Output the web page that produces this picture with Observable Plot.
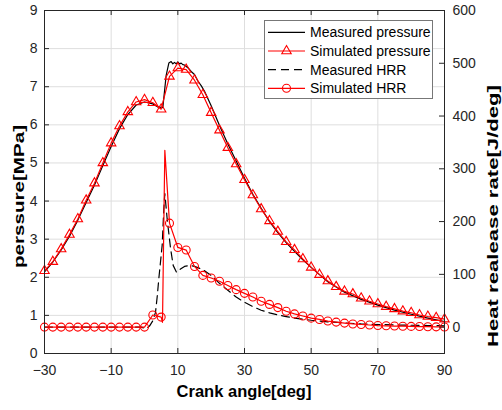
<!DOCTYPE html>
<html><head><meta charset="utf-8">
<script src="https://cdn.jsdelivr.net/npm/d3@7"></script>
<script src="https://cdn.jsdelivr.net/npm/@observablehq/plot@0.6"></script>
<style>body{margin:0;background:#fff;}#chart svg{display:block;}</style>
</head><body><div id="chart"></div>
<script>
// ---- data ----
const xTicks = [-30, -10, 10, 30, 50, 70, 90];
const pTicks = [0, 1, 2, 3, 4, 5, 6, 7, 8, 9];
const hrrTicks = [0, 100, 200, 300, 400, 500, 600];

const simPAngle = [-30,-27.5,-25,-22.5,-20,-17.5,-15,-12.5,-10,-7.5,-5,-2.5,0,2.5,5,7.5,10,12.5,15,17.5,20,22.5,25,27.5,30,32.5,35,37.5,40,42.5,45,47.5,50,52.5,55,57.5,60,62.5,65,67.5,70,72.5,75,77.5,80,82.5,85,87.5,90];
const simP = [2.17,2.41,2.74,3.12,3.53,4.02,4.47,5.0,5.52,5.97,6.34,6.60,6.66,6.58,6.41,7.27,7.49,7.45,7.17,6.79,6.32,5.86,5.40,4.97,4.56,4.16,3.79,3.48,3.20,2.93,2.72,2.48,2.26,2.07,1.90,1.75,1.63,1.56,1.45,1.37,1.30,1.23,1.17,1.11,1.07,1.01,0.97,0.94,0.90];

const measPAngle = [-30,-27.5,-25,-22.5,-20,-17.5,-15,-12.5,-10,-7.5,-5,-2.5,0,2.5,4,5.5,6.5,7.3,8,8.5,9,9.5,10,10.5,11,11.5,12,13,14,15,16,17,18,20,22.5,25,27.5,30,32.5,35,37.5,40,42.5,45,47.5,50,55,60,65,70,75,80,85,90];
const measP = [2.14,2.40,2.72,3.08,3.50,3.96,4.42,4.93,5.43,5.90,6.27,6.52,6.60,6.55,6.47,6.45,7.30,7.62,7.66,7.60,7.64,7.60,7.65,7.60,7.62,7.58,7.57,7.50,7.40,7.32,7.15,7.03,6.88,6.50,5.98,5.50,5.05,4.60,4.18,3.81,3.46,3.17,2.91,2.68,2.46,2.26,1.88,1.61,1.42,1.27,1.14,1.03,0.93,0.84];

const measHAngle = [-30,-1,0.5,1.5,2.5,3.3,3.8,4.3,5.3,5.8,6.1,6.8,7.8,8.6,9.6,10.8,12,13.5,15,17.5,20,22.5,25,27.5,30,32.5,35,37.5,40,42.5,45,47.5,50,55,60,65,70,75,80,85,90];
const measH = [0,0,-3,2,12,28,57,92,155,225,253,205,150,117,104,110,115,117,115,109,98,83,70,57,47,39,32,27,23,20,17,15,13,10,8,6,5,4,3.5,3,2.5];

const simHAngle = [-30,-27.5,-25,-22.5,-20,-17.5,-15,-12.5,-10,-7.5,-5,-2.5,0,2.5,5,5.4,6.1,7.5,10,12.5,15,17.5,20,22.5,25,27.5,30,32.5,35,37.5,40,42.5,45,47.5,50,52.5,55,57.5,60,62.5,65,67.5,70,72.5,75,77.5,80,82.5,85,87.5,90];
const simH = [0,0,0,0,0,0,0,0,0,0,0,0,0,23,19,9,335,197,151,146,115,98,93,87,79,71,64,57,49,43,37,30,25,21,17,14.5,11.5,9.5,7.6,6,5,4,3,2.5,2,1.7,1.4,1.1,0.8,0.5,0.3];

const legendLabels = ["Measured pressure", "Simulated pressure", "Measured HRR", "Simulated HRR"];

// ---- layout ----
const W = 502, H = 410, mL = 44, mR = 58, mT = 10, mB = 57;
const innerW = W - mL - mR, innerH = H - mT - mB;
const pDomain = [0, 9], hrrDomain = [-50, 600];
const toP = h => pDomain[0] + (h - hrrDomain[0]) * (pDomain[1] - pDomain[0]) / (hrrDomain[1] - hrrDomain[0]);
const fromP = p => hrrDomain[0] + (p - pDomain[0]) * (hrrDomain[1] - hrrDomain[0]) / (pDomain[1] - pDomain[0]);

const zip = (a, b) => a.map((x, i) => ({x, v: b[i]}));
const simPData = zip(simPAngle, simP);
const measPData = zip(measPAngle, measP);
const measHData = zip(measHAngle, measH);
const simHData = zip(simHAngle, simH);
const simHMarkers = simHData.filter(d => Math.abs(d.x / 2.5 - Math.round(d.x / 2.5)) < 1e-9);

const RED = "#ff0000", AX = "#262626", GRID = "#dedede";
const FONT = "'Liberation Sans', Arial, Helvetica, sans-serif";
const triR = 3.5, circR = 4;
const DASH = "8,5";

const chart = Plot.plot({
  width: W, height: H,
  marginLeft: mL, marginRight: mR, marginTop: mT, marginBottom: mB,
  style: {fontFamily: FONT, fontSize: "14px", color: AX, background: "#fff"},
  x: {domain: [-30, 90]},
  y: {domain: pDomain},
  marks: [
    Plot.gridX(xTicks, {stroke: GRID, strokeOpacity: 1}),
    Plot.gridY(pTicks, {stroke: GRID, strokeOpacity: 1}),
    // pressure
    Plot.line(measPData, {x: "x", y: "v", stroke: "#000", strokeWidth: 1.2}),
    Plot.line(simPData, {x: "x", y: "v", stroke: RED, strokeWidth: 1.2}),
    Plot.dot(simPData, {x: "x", y: "v", symbol: "triangle", r: triR, stroke: RED, fill: "none", strokeWidth: 1.1}),
    // HRR (right axis)
    Plot.line(measHData, {x: "x", y: d => toP(d.v), stroke: "#000", strokeWidth: 1.2, strokeDasharray: DASH}),
    Plot.line(simHData, {x: "x", y: d => toP(d.v), stroke: RED, strokeWidth: 1.2}),
    Plot.dot(simHMarkers, {x: "x", y: d => toP(d.v), r: circR, stroke: RED, fill: "none", strokeWidth: 1.1}),
    // box and inward ticks
    Plot.frame({stroke: AX, strokeWidth: 1}),
    Plot.tickX(xTicks, {x: d => d, insetTop: innerH - 5, stroke: AX}),
    Plot.tickX(xTicks, {x: d => d, insetBottom: innerH - 5, stroke: AX}),
    Plot.tickY(pTicks, {y: d => d, insetRight: innerW - 5, stroke: AX}),
    Plot.tickY(hrrTicks, {y: d => toP(d), insetLeft: innerW - 5, stroke: AX}),
    // tick labels
    Plot.axisX(xTicks, {tickSize: 0, tickPadding: 12, label: null, fill: AX}),
    Plot.axisY(pTicks, {tickSize: 0, tickPadding: 7, label: null, fill: AX}),
    Plot.axisY(hrrTicks.map(toP), {anchor: "right", tickSize: 0, tickPadding: 8, label: null, fill: AX,
      tickFormat: p => String(Math.round(fromP(p)))})
  ]
});
document.getElementById("chart").appendChild(chart);

// ---- axis titles and legend ----
const svg = d3.select(chart);
const titles = svg.append("g").attr("font-family", FONT).attr("font-weight", "bold").attr("fill", "#000");
titles.append("text").attr("x", mL + innerW / 2).attr("y", 397).attr("text-anchor", "middle")
  .attr("font-size", 16.5).text("Crank angle[deg]");
titles.append("text").attr("transform", "translate(19,196.5) rotate(-90)").attr("text-anchor", "middle")
  .attr("dy", "0.35em").attr("font-size", 15.5).attr("textLength", 143).attr("lengthAdjust", "spacingAndGlyphs")
  .text("perssure[MPa]");
titles.append("text").attr("transform", "translate(493,216) rotate(-90)").attr("text-anchor", "middle")
  .attr("dy", "0.35em").attr("font-size", 15.5).attr("textLength", 262).attr("lengthAdjust", "spacingAndGlyphs")
  .text("Heat realease rate[J/deg]");

const lg = svg.append("g").attr("font-family", FONT).attr("font-size", 14).attr("text-anchor", "start");
lg.append("rect").attr("x", 264.5).attr("y", 20.5).attr("width", 168).attr("height", 78)
  .attr("fill", "#fff").attr("stroke", "#777").attr("stroke-width", 1);
const rowY = [32.3, 51, 69.7, 88.3];
const styles = [
  {stroke: "#000", dash: null, sym: null},
  {stroke: RED, dash: null, sym: d3.symbolTriangle, r: triR},
  {stroke: "#000", dash: DASH, sym: null},
  {stroke: RED, dash: null, sym: d3.symbolCircle, r: circR}
];
legendLabels.forEach((lab, i) => {
  const s = styles[i], y = rowY[i];
  lg.append("line").attr("x1", 268).attr("x2", 305).attr("y1", y).attr("y2", y)
    .attr("stroke", s.stroke).attr("stroke-width", 1.2).attr("stroke-dasharray", s.dash);
  if (s.sym) {
    lg.append("path").attr("d", d3.symbol(s.sym, Math.PI * s.r * s.r)())
      .attr("transform", `translate(286.5,${y})`).attr("fill", "none").attr("stroke", s.stroke).attr("stroke-width", 1.1);
  }
  lg.append("text").attr("x", 310).attr("y", y).attr("dy", "0.35em").attr("text-anchor", "start").attr("fill", "#000").text(lab);
});
</script>
</body></html>
